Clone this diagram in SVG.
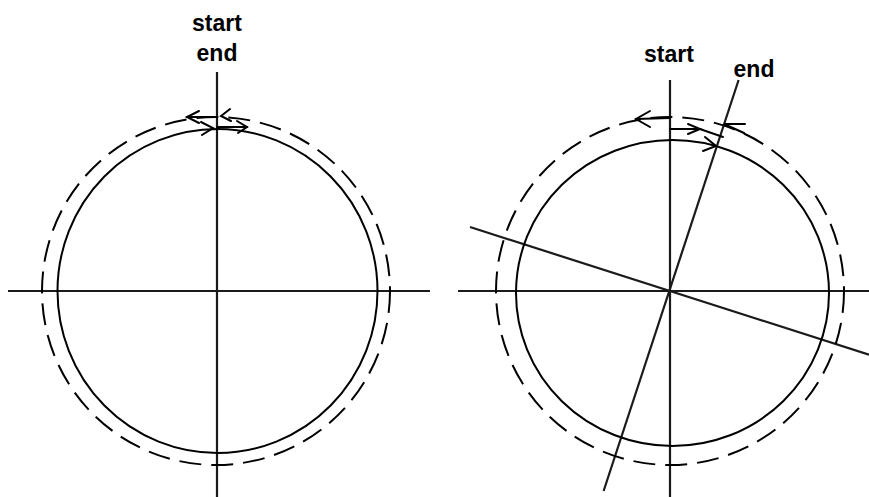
<svg xmlns="http://www.w3.org/2000/svg" width="869" height="497" viewBox="0 0 869 497">
<style>
.axis{stroke:#1a1a1a;stroke-width:2.2;fill:none}
.solid{stroke:#000;stroke-width:2;fill:none}
.dash{stroke:#000;stroke-width:2;fill:none;stroke-dasharray:22 10}
.arr{stroke:#000;stroke-width:2;fill:none;stroke-linecap:round}
.lbl{font-family:"Liberation Sans",Arial,sans-serif;font-weight:bold;font-size:23px;fill:#000;text-anchor:middle}
</style>
<rect width="869" height="497" fill="#fff"/>
<g id="left-figure">
  <line class="axis" x1="8" y1="291" x2="430" y2="291"/>
  <line class="axis" x1="217" y1="72" x2="217" y2="497"/>
  <ellipse class="solid" cx="217.5" cy="291" rx="160" ry="162"/>
  <circle class="dash" cx="216" cy="291" r="174"/>
  <g id="left-arrows">
    <polyline class="arr" points="217,117 187,117"/>
    <polyline class="arr" points="199,111 187,117 199,123"/>
    <polyline class="arr" points="230,109 221,116 231,121"/>
    <polyline class="arr" points="217,127 247,127"/>
    <polyline class="arr" points="237,121 247,127 238,133"/>
    <polyline class="arr" points="201,122 213,128 202,135"/>
  </g>
  <text class="lbl" x="217" y="31">start</text>
  <text class="lbl" x="217" y="61">end</text>
</g>
<g id="right-figure">
  <line class="axis" x1="458" y1="291" x2="869" y2="291"/>
  <line class="axis" x1="670" y1="80" x2="670" y2="497"/>
  <line class="axis" x1="738.6" y1="80" x2="603.6" y2="491"/>
  <line class="axis" x1="470" y1="227" x2="869" y2="354.7"/>
  <ellipse class="solid" cx="672.5" cy="293" rx="156.5" ry="153"/>
  <circle class="dash" cx="670" cy="291" r="174"/>
  <g id="right-arrows">
    <polyline class="arr" points="670,118 636,119"/>
    <polyline class="arr" points="650,111 636,119 650,127"/>
    <polyline class="arr" points="670,129 700,129 723,137"/>
    <polyline class="arr" points="688,124 700,129 688,134"/>
    <polyline class="arr" points="745,124 724,124 744,133"/>
    <polyline class="arr" points="705,137 716,146 703,151"/>
  </g>
  <text class="lbl" x="669" y="62">start</text>
  <text class="lbl" x="754" y="77">end</text>
</g>
</svg>
